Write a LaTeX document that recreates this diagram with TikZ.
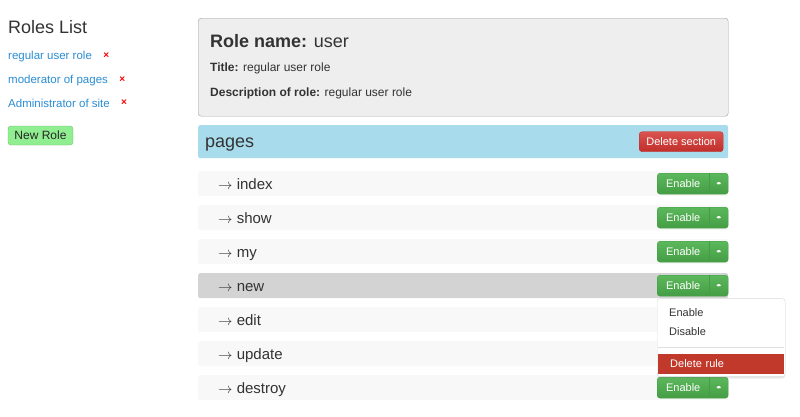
\documentclass[tikz,border=0pt]{standalone}
\usepackage{fontspec}
\setmainfont{Liberation Sans}
\usepackage{tikz}
\usepackage{xcolor}
\usetikzlibrary{positioning,shadows}
\definecolor{textdark}{HTML}{333333}
\definecolor{linkblue}{HTML}{2A8DD4}
\definecolor{boxgray}{HTML}{EEEEEE}
\definecolor{boxline}{HTML}{A0A0A0}
\definecolor{barblue}{HTML}{A8DCEC}
\definecolor{rowgray}{HTML}{F8F8F8}
\definecolor{rowsel}{HTML}{D3D3D3}
\definecolor{btngreen}{HTML}{5CB85C}
\definecolor{btngreendark}{HTML}{449D44}
\definecolor{btnred}{HTML}{D9534F}
\definecolor{btnreddark}{HTML}{C12E2A}
\definecolor{menured}{HTML}{C0392B}
\definecolor{newgreen}{HTML}{90EE90}
\tikzset{
    list-title/.style = {text=textdark, font=\fontsize{18}{20}\selectfont, anchor=base west, inner sep=0pt},
    link-text/.style = {text=linkblue, font=\fontsize{11.5}{14}\selectfont, anchor=base west, inner sep=0pt},
    remove-mark/.style = {text=red, font=\bfseries\fontsize{10}{12}\selectfont, inner sep=0pt},
    new-btn/.style = {fill=newgreen, draw=newgreen!80!black, thin, rounded corners=3pt, minimum width=65pt, minimum height=19pt, inner sep=0pt, font=\fontsize{12}{14}\selectfont, text=black!85},
    role-box/.style = {draw=boxline, fill=boxgray, thin, rectangle, rounded corners=3pt, minimum width=530pt, minimum height=98pt, anchor=north west},
    role-text/.style = {text=textdark, font=\fontsize{12}{14}\selectfont, anchor=base west, inner sep=0pt},
    section-bar/.style = {fill=barblue, rounded corners=2pt, minimum width=530pt, minimum height=33pt, anchor=north west, inner sep=0pt},
    delete-btn/.style = {top color=btnred, bottom color=btnreddark, draw=btnreddark, thin, rounded corners=3pt, minimum width=84pt, minimum height=20pt, inner sep=0pt, text=white, font=\fontsize{11}{13}\selectfont},
    rule-row/.style = {fill=#1, rounded corners=2pt, minimum width=530pt, minimum height=25pt, anchor=north west, inner sep=0pt},
    row-label/.style = {text=textdark, font=\fontsize{15}{18}\selectfont, anchor=base west, inner sep=0pt},
    enable-btn/.style = {top color=btngreen, bottom color=btngreendark, draw=btngreendark, thin, rounded corners=3pt, minimum width=71pt, minimum height=21pt, inner sep=0pt, text=white, font=\fontsize{11}{13}\selectfont,
        path picture={
            \draw[btngreendark] ([xshift=-19pt]path picture bounding box.north east) -- ([xshift=-19pt]path picture bounding box.south east);
            \fill[white] ([xshift=-13pt,yshift=1.5pt]path picture bounding box.east) -- ++(7pt,0pt) -- ++(-3.5pt,-3.5pt) -- cycle;
        }},
    menu-box/.style = {draw=black!15, fill=white, rounded corners=3pt, minimum width=128pt, minimum height=78pt, inner sep=0pt, drop shadow={opacity=0.18, shadow xshift=0pt, shadow yshift=-2pt}},
    menu-item/.style = {text=textdark, font=\fontsize{11}{13}\selectfont, anchor=west, inner sep=0pt},
    menu-danger/.style = {fill=menured, text=white, font=\fontsize{11}{13}\selectfont, text width=102pt, inner xsep=12pt, minimum height=20pt, align=left},
}
\begin{document}
\begin{tikzpicture}[x=1pt, y=-1pt]
\fill[white] (0,0) rectangle (800,416);
\useasboundingbox (0,0) rectangle (800,416);

\node[list-title] (roles-title) at (8,33) {Roles List};
\foreach \role/\yy in {regular user role/59, moderator of pages/83, Administrator of site/107}{
    \node[link-text] (role-\yy) at (8,\yy) {\role};
    \node[remove-mark, right=11pt of role-\yy.east] (remove-\yy) {×};
}
\node[new-btn] (new-role) at (40.5,135.5) {New Role};

\node[role-box] (role-header) at (198,18) {};
\node[role-text, font=\bfseries\fontsize{18}{20}\selectfont] (role-name) at (210,47) {Role name: \mdseries user};
\node[role-text] (role-title) at (210,71) {\textbf{Title:} regular user role};
\node[role-text] (role-desc) at (210,96) {\textbf{Description of role:} regular user role};

\node[section-bar] (pages-bar) at (198,125) {};
\node[row-label, font=\fontsize{18}{20}\selectfont] (pages-title) at ([xshift=7pt, yshift=-6pt]pages-bar.west) {pages};
\node[delete-btn, left=5pt of pages-bar.east] (delete-section) {Delete section};

\foreach \name/\shade [count=\i from 0] in {index/rowgray, show/rowgray, my/rowgray, new/rowsel, edit/rowgray, update/rowgray, destroy/rowgray}{
    \node[rule-row=\shade] (row-\name) at (198,{171+34*\i}) {};
    \node[row-label] (label-\name) at ([xshift=20pt, yshift=-5.5pt]row-\name.west) {$\rightarrow$ \name};
    \node[enable-btn, left=0pt of row-\name.east] (btn-\name) {\makebox[52pt]{Enable}\rule{19pt}{0pt}};
}

\node[menu-box, below right=2pt and 0pt of btn-new.south west] (menu) {};
\node[menu-item] (menu-enable) at ([xshift=12pt, yshift=-14pt]menu.north west) {Enable};
\node[menu-item] (menu-disable) at ([xshift=12pt, yshift=-33pt]menu.north west) {Disable};
\draw[black!12] ([xshift=1pt, yshift=-49pt]menu.north west) -- ([xshift=-1pt, yshift=-49pt]menu.north east);
\node[menu-danger, below=55pt of menu.north] (menu-delete) {Delete rule};
\end{tikzpicture}
\end{document}
